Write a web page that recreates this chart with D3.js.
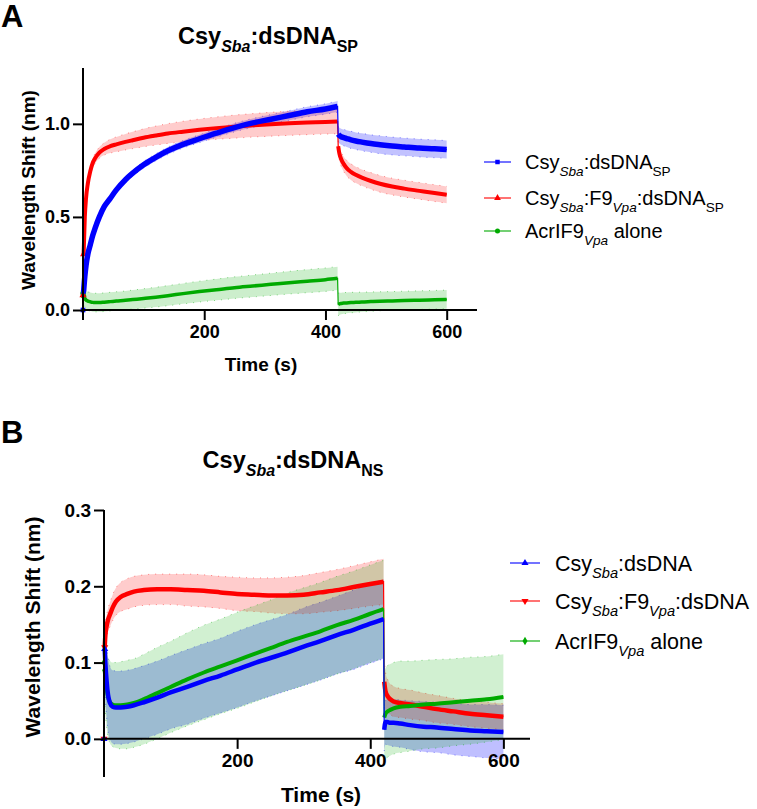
<!DOCTYPE html>
<html><head><meta charset="utf-8">
<script src="https://cdn.jsdelivr.net/npm/d3@7"></script>
<style>body{margin:0;background:#fff}svg{display:block}</style>
</head><body>
<svg id="c" width="757" height="809"></svg>
<script>
// ===== Panel A : Csy(Sba):dsDNA(SP) =====
const aAssocTime = [0,1,3,5,8,12,16,20,27,35,45,55,70,82,100,120,140,165,192,220,250,280,310,340,370,400,420];
const aAssocBlue = [0.00,0.10,0.18,0.24,0.30,0.35,0.40,0.44,0.50,0.555,0.60,0.645,0.70,0.735,0.78,0.82,0.855,0.89,0.92,0.95,0.98,1.005,1.025,1.045,1.065,1.08,1.093];
const aAssocBlueSD = [0.005,0.01,0.01,0.01,0.01,0.012,0.012,0.012,0.013,0.014,0.015,0.015,0.016,0.017,0.018,0.019,0.02,0.02,0.021,0.022,0.023,0.024,0.025,0.026,0.027,0.028,0.03];
const aAssocRed = [0.08,0.30,0.50,0.60,0.68,0.745,0.79,0.815,0.845,0.865,0.88,0.89,0.903,0.912,0.925,0.937,0.948,0.958,0.968,0.977,0.985,0.992,0.998,1.003,1.007,1.01,1.012];
const aAssocRedSD = [0.005,0.01,0.015,0.018,0.02,0.022,0.025,0.027,0.03,0.033,0.037,0.04,0.043,0.045,0.048,0.051,0.053,0.056,0.058,0.06,0.062,0.063,0.064,0.065,0.065,0.065,0.065];
const aAssocGreen = [0.09,0.075,0.062,0.054,0.048,0.044,0.041,0.040,0.040,0.042,0.045,0.048,0.052,0.056,0.062,0.069,0.077,0.088,0.099,0.109,0.12,0.129,0.138,0.147,0.155,0.163,0.17];
const aAssocGreenSD = [0.03,0.04,0.045,0.05,0.05,0.05,0.05,0.05,0.05,0.05,0.05,0.05,0.05,0.051,0.052,0.053,0.054,0.055,0.056,0.057,0.058,0.059,0.06,0.061,0.062,0.063,0.063];

const aDissTime = [421,423,426,430,435,442,450,460,475,490,510,530,555,580,600];
const aDissBlue = [0.945,0.937,0.931,0.926,0.921,0.914,0.908,0.902,0.894,0.888,0.881,0.876,0.870,0.866,0.862];
const aDissBlueSD = [0.04,0.042,0.043,0.044,0.045,0.046,0.046,0.047,0.047,0.048,0.048,0.048,0.048,0.048,0.048];
const aDissRed = [0.88,0.84,0.81,0.785,0.762,0.742,0.726,0.711,0.693,0.678,0.663,0.652,0.640,0.628,0.619];
const aDissRedSD = [0.03,0.035,0.038,0.04,0.042,0.043,0.044,0.044,0.045,0.045,0.045,0.045,0.045,0.045,0.045];
const aDissGreen = [0.03,0.033,0.035,0.037,0.038,0.040,0.041,0.043,0.045,0.047,0.049,0.051,0.053,0.055,0.057];
const aDissGreenSD = [0.06,0.06,0.058,0.057,0.056,0.055,0.054,0.053,0.052,0.051,0.05,0.05,0.05,0.05,0.05];

const aYTicks = [0, 0.5, 1.0];
const aXTicks = [200, 400, 600];

// ===== Panel B : Csy(Sba):dsDNA(NS) =====
const bAssocTime = [0,1,2,4,6,9,13,18,25,35,45,60,80,100,125,150,175,200,225,250,275,300,325,350,375,400,420];
const bAssocBlue = [0.0,0.118,0.10,0.075,0.058,0.047,0.042,0.041,0.041,0.042,0.044,0.048,0.054,0.061,0.068,0.076,0.083,0.091,0.099,0.106,0.113,0.121,0.128,0.136,0.143,0.151,0.157];
const bAssocBlueSD = [0.0,0.04,0.045,0.047,0.048,0.048,0.048,0.048,0.048,0.048,0.048,0.048,0.048,0.048,0.049,0.049,0.049,0.05,0.05,0.05,0.05,0.051,0.051,0.051,0.052,0.052,0.052];
const bAssocRed = [0.0,0.12,0.135,0.148,0.156,0.163,0.172,0.18,0.186,0.19,0.193,0.195,0.196,0.196,0.195,0.194,0.192,0.190,0.189,0.188,0.188,0.189,0.192,0.195,0.199,0.203,0.206];
const bAssocRedSD = [0.0,0.01,0.012,0.014,0.015,0.016,0.017,0.018,0.019,0.02,0.02,0.02,0.02,0.02,0.021,0.021,0.021,0.022,0.022,0.023,0.024,0.025,0.026,0.027,0.028,0.029,0.03];
const bAssocGreen = [0.10,0.09,0.08,0.065,0.055,0.048,0.045,0.044,0.044,0.045,0.047,0.052,0.060,0.068,0.078,0.087,0.095,0.103,0.111,0.119,0.127,0.134,0.141,0.149,0.156,0.164,0.170];
const bAssocGreenSD = [0.02,0.04,0.045,0.05,0.052,0.054,0.055,0.056,0.057,0.058,0.058,0.059,0.06,0.06,0.061,0.062,0.062,0.063,0.063,0.063,0.064,0.064,0.064,0.064,0.064,0.064,0.064];

const bDissTime = [421,423,426,430,435,445,460,480,500,525,550,575,600];
const bDissBlue = [0.012,0.022,0.022,0.021,0.021,0.02,0.018,0.016,0.015,0.013,0.011,0.010,0.009];
const bDissBlueSD = [0.028,0.029,0.03,0.03,0.031,0.031,0.032,0.033,0.033,0.034,0.034,0.035,0.035];
const bDissRed = [0.075,0.062,0.056,0.052,0.049,0.047,0.045,0.042,0.039,0.036,0.033,0.031,0.029];
const bDissRedSD = [0.03,0.025,0.022,0.02,0.02,0.019,0.019,0.018,0.018,0.017,0.017,0.017,0.017];
const bDissGreen = [0.028,0.033,0.036,0.038,0.04,0.042,0.043,0.045,0.046,0.048,0.05,0.052,0.055];
const bDissGreenSD = [0.06,0.06,0.06,0.06,0.06,0.06,0.059,0.058,0.058,0.057,0.057,0.056,0.056];

const bYTicks = [0, 0.1, 0.2, 0.3];
const bXTicks = [200, 400, 600];

const colBlue = "#0000ff", colRed = "#ff0000", colGreen = "#00aa00";
const FONT = "'Liberation Sans', Arial, Helvetica, sans-serif";

const svg = d3.select("#c").style("font-family", FONT);

function zip(t, v, s) { return t.map((d, i) => ({t: d, v: v[i], s: s[i]})); }

function richText(g, x, y, parts, size, weight, anchor, subScale) {
  const txt = g.append("text").attr("x", x).attr("y", y)
    .attr("font-size", size).attr("font-weight", weight)
    .attr("text-anchor", anchor || "start").attr("fill", "#000");
  let inSub = false;
  const drop = size * 0.32;
  parts.forEach(p => {
    const s = txt.append("tspan").text(p.t);
    if (p.sub) {
      s.attr("font-size", size * (subScale || 0.68));
      if (!inSub) s.attr("dy", drop);
      if (p.it) s.attr("font-style", "italic");
      inSub = true;
    } else {
      if (inSub) s.attr("dy", -drop);
      inSub = false;
    }
  });
  return txt;
}

function drawPanel(cfg) {
  const g = svg.append("g");
  const x = d3.scaleLinear().domain(cfg.xDomain).range(cfg.xRange);
  const y = d3.scaleLinear().domain(cfg.yDomain).range(cfg.yRange);

  const area = d3.area().x(d => x(d.t)).y0(d => y(d.v - d.s)).y1(d => y(d.v + d.s)).curve(d3.curveMonotoneX);
  const line = d3.line().x(d => x(d.t)).y(d => y(d.v)).curve(d3.curveMonotoneX);
  const upper = d3.line().x(d => x(d.t)).y(d => y(d.v + d.s)).curve(d3.curveMonotoneX);
  const lower = d3.line().x(d => x(d.t)).y(d => y(d.v - d.s)).curve(d3.curveMonotoneX);

  // bands
  cfg.series.forEach(s => {
    s.phases.forEach(ph => {
      g.append("path").attr("d", area(ph)).attr("fill", s.color).attr("fill-opacity", s.bandOpacity);
      [upper, lower].forEach(fn => g.append("path").attr("d", fn(ph)).attr("fill", "none")
        .attr("stroke", s.color).attr("stroke-opacity", 0.45).attr("stroke-width", 1)
        .attr("stroke-dasharray", "1,6"));
    });
  });
  // lines
  cfg.lineOrder.forEach(idx => {
    const s = cfg.series[idx];
    const all = s.phases[0].concat(s.phases[1]);
    g.append("path").attr("d", d3.line().x(d => x(d.t)).y(d => y(d.v))(all))
      .attr("fill", "none").attr("stroke", s.color).attr("stroke-width", 1.2);
    s.phases.forEach(ph => {
      const body = ph[0].t === 0 ? ph.slice(1) : ph;
      g.append("path").attr("d", line(body)).attr("fill", "none")
        .attr("stroke", s.color).attr("stroke-width", s.width).attr("stroke-linejoin", "round");
    });
    const p0 = s.phases[0][0], p1 = s.phases[0][1];
    [p0, p1].forEach(p => g.append("path")
      .attr("d", d3.symbol().type(s.symbol).size(22)())
      .attr("transform", `translate(${x(p.t)},${y(p.v)})${s.rot ? " rotate(180)" : ""}`)
      .attr("fill", s.color));
  });

  // axes
  const x0 = cfg.xRange[0];
  const yZero = y(0);
  const ax = g.append("g").attr("stroke", "#000").attr("stroke-width", 2);
  ax.append("line").attr("x1", x0).attr("x2", x0).attr("y1", cfg.yRange[1]).attr("y2", cfg.yAxisBottom);
  ax.append("line").attr("x1", x0 - 1).attr("x2", cfg.xRange[1]).attr("y1", yZero).attr("y2", yZero);

  const yAxis = d3.axisLeft(y).tickValues(cfg.yTicks).tickFormat(d3.format(".1f")).tickSize(10).tickPadding(3);
  const ya = g.append("g").attr("transform", `translate(${x0},0)`).call(yAxis);
  const xAxis = d3.axisBottom(x).tickValues(cfg.xTicks).tickSize(10).tickPadding(5).tickFormat(d3.format("d"));
  const xa = g.append("g").attr("transform", `translate(0,${yZero})`).call(xAxis);
  [ya, xa].forEach(a => {
    a.select(".domain").remove();
    a.selectAll("line").attr("stroke", "#000").attr("stroke-width", 2);
    a.selectAll("text").attr("font-family", FONT).attr("font-size", cfg.tickFont)
      .attr("font-weight", "bold").attr("fill", "#000");
  });

  // titles
  richText(g, cfg.titleX, cfg.titleY, cfg.title, cfg.titleSize, "bold", "middle", 0.68);
  g.append("text").attr("x", cfg.xLabelX).attr("y", cfg.xLabelY).attr("text-anchor", "middle")
    .attr("font-size", cfg.labelSize).attr("font-weight", "bold").text("Time (s)");
  g.append("text").attr("transform", `translate(${cfg.yLabelX},${cfg.yLabelY}) rotate(-90)`)
    .attr("text-anchor", "middle").attr("dy", "0.35em")
    .attr("font-size", cfg.labelSize).attr("font-weight", "bold").text("Wavelength Shift (nm)");
  g.append("text").attr("x", cfg.letterX).attr("y", cfg.letterY)
    .attr("font-size", cfg.letterSize).attr("font-weight", "bold").text(cfg.letter);

  // legend
  cfg.legend.forEach((it, i) => {
    const ly = cfg.legendRows[i];
    const s = cfg.series[it.idx];
    g.append("line").attr("x1", cfg.legendX[0]).attr("x2", cfg.legendX[1]).attr("y1", ly).attr("y2", ly)
      .attr("stroke", s.color).attr("stroke-opacity", 0.55).attr("stroke-width", 2);
    g.append("path").attr("d", d3.symbol().type(s.symbol).size(cfg.legendMarker)())
      .attr("transform", `translate(${(cfg.legendX[0] + cfg.legendX[1]) / 2},${ly})${s.rot ? " rotate(180)" : ""}`)
      .attr("fill", s.color);
    richText(g, cfg.legendX[2], ly + cfg.legendSize * 0.36, it.parts, cfg.legendSize, "normal", "start", 0.68);
  });
}

drawPanel({
  xDomain: [0, 650], xRange: [83, 477],
  yDomain: [0, 1.3], yRange: [310, 68], yAxisBottom: 320,
  yTicks: aYTicks, xTicks: aXTicks, tickFont: 18,
  series: [
    {color: colBlue, width: 5.5, bandOpacity: 0.24, symbol: d3.symbolSquare, phases: [zip(aAssocTime, aAssocBlue, aAssocBlueSD), zip(aDissTime, aDissBlue, aDissBlueSD)]},
    {color: colRed, width: 4, bandOpacity: 0.2, symbol: d3.symbolTriangle, phases: [zip(aAssocTime, aAssocRed, aAssocRedSD), zip(aDissTime, aDissRed, aDissRedSD)]},
    {color: colGreen, width: 3.5, bandOpacity: 0.2, symbol: d3.symbolCircle, phases: [zip(aAssocTime, aAssocGreen, aAssocGreenSD), zip(aDissTime, aDissGreen, aDissGreenSD)]}
  ],
  lineOrder: [2, 1, 0],
  title: [{t: "Csy"}, {t: "Sba", sub: true, it: true}, {t: ":dsDNA"}, {t: "SP", sub: true}],
  titleX: 268, titleY: 44, titleSize: 23.5,
  xLabelX: 261, xLabelY: 371, yLabelX: 28, yLabelY: 190, labelSize: 19,
  letter: "A", letterX: 1, letterY: 27, letterSize: 31,
  legend: [
    {idx: 0, parts: [{t: "Csy"}, {t: "Sba", sub: true, it: true}, {t: ":dsDNA"}, {t: "SP", sub: true}]},
    {idx: 1, parts: [{t: "Csy"}, {t: "Sba", sub: true, it: true}, {t: ":F9"}, {t: "Vpa", sub: true, it: true}, {t: ":dsDNA"}, {t: "SP", sub: true}]},
    {idx: 2, parts: [{t: "AcrIF9"}, {t: "Vpa", sub: true, it: true}, {t: " alone"}]}
  ],
  legendRows: [162, 198, 231], legendX: [484, 511, 525], legendSize: 20, legendMarker: 20
});

drawPanel({
  xDomain: [0, 640], xRange: [104, 530],
  yDomain: [-0.05, 0.3], yRange: [777, 510], yAxisBottom: 777,
  yTicks: bYTicks, xTicks: bXTicks, tickFont: 19,
  series: [
    {color: colBlue, width: 4.5, bandOpacity: 0.25, symbol: d3.symbolTriangle, phases: [zip(bAssocTime, bAssocBlue, bAssocBlueSD), zip(bDissTime, bDissBlue, bDissBlueSD)]},
    {color: colRed, width: 4.5, bandOpacity: 0.2, symbol: d3.symbolTriangle, rot: true, phases: [zip(bAssocTime, bAssocRed, bAssocRedSD), zip(bDissTime, bDissRed, bDissRedSD)]},
    {color: colGreen, width: 4, bandOpacity: 0.18, symbol: d3.symbolDiamond, phases: [zip(bAssocTime, bAssocGreen, bAssocGreenSD), zip(bDissTime, bDissGreen, bDissGreenSD)]}
  ],
  lineOrder: [1, 2, 0],
  title: [{t: "Csy"}, {t: "Sba", sub: true, it: true}, {t: ":dsDNA"}, {t: "NS", sub: true}],
  titleX: 293, titleY: 468, titleSize: 23.5,
  xLabelX: 321, xLabelY: 802, yLabelX: 33, yLabelY: 627, labelSize: 21,
  letter: "B", letterX: 1, letterY: 443, letterSize: 31,
  legend: [
    {idx: 0, parts: [{t: "Csy"}, {t: "Sba", sub: true, it: true}, {t: ":dsDNA"}]},
    {idx: 1, parts: [{t: "Csy"}, {t: "Sba", sub: true, it: true}, {t: ":F9"}, {t: "Vpa", sub: true, it: true}, {t: ":dsDNA"}]},
    {idx: 2, parts: [{t: "AcrIF9"}, {t: "Vpa", sub: true, it: true}, {t: " alone"}]}
  ],
  legendRows: [563, 601, 641], legendX: [510, 540, 555], legendSize: 21.5, legendMarker: 22
});
</script>
</body></html>
